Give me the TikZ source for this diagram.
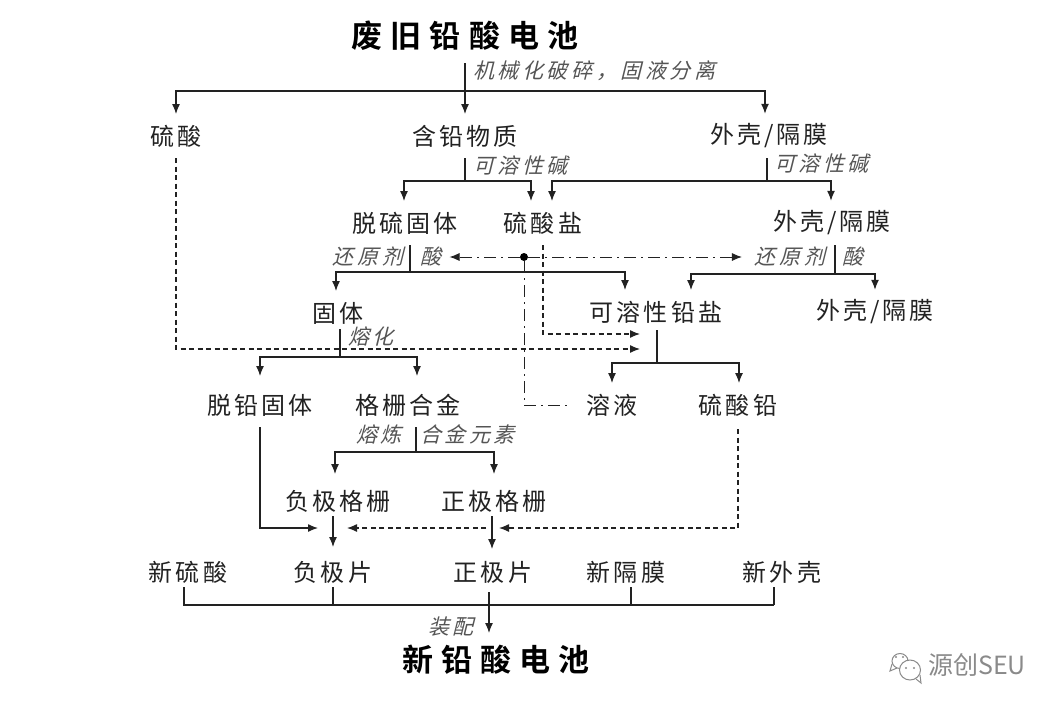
\documentclass[tikz,border=0pt]{standalone}
\usepackage{fontspec}
\usetikzlibrary{arrows.meta}
\setmainfont{Noto Sans CJK SC}
\newfontfamily\bodyf[LetterSpace=13]{Noto Sans CJK SC}
\newfontfamily\slantf[FakeSlant=0.25,LetterSpace=17]{Noto Sans CJK SC}
\newfontfamily\titlef[LetterSpace=26]{Noto Sans CJK SC Bold}
\newfontfamily\markf{Noto Sans CJK SC}
\definecolor{ink}{HTML}{222222}
\definecolor{lab}{HTML}{555555}
\definecolor{wm}{HTML}{8A8A8A}
\tikzset{
  x=1pt,y=-1pt,
  txt/.style={inner sep=0pt,outer ysep=10pt,minimum height=24pt,yshift=-1pt,text=ink,font=\bodyf\fontsize{24}{24}\selectfont},
  big/.style={inner sep=0pt,outer ysep=12pt,minimum height=30pt,text=black,font=\titlef\fontsize{31}{31}\selectfont},
  cue/.style={inner sep=0pt,text=lab,font=\slantf\fontsize{21}{21}\selectfont},
  ln/.style={draw=ink,line width=1.25pt},
  arr/.style={ln,-{Latex[length=10pt,width=8pt]}},
  dsh/.style={dash pattern=on 5pt off 3.5pt},
  ddt/.style={line width=0.9pt,dash pattern=on 12pt off 5pt on 2pt off 5pt}
}
\begin{document}
\begin{tikzpicture}
\useasboundingbox[fill=white] (0,0) rectangle (1063,713);
% titles
\node[big] (old) at (465,36) {废旧铅酸电池};
\node[big] (fresh) at (496,660) {新铅酸电池};
% materials
\node[txt] (acid) at (176,135) {硫酸};
\node[txt] (lead) at (465,135) {含铅物质};
\node[txt] (shellA) at (769,135) {外壳/隔膜};
\node[txt] (desulf) at (405,222) {脱硫固体};
\node[txt] (sulfate) at (543,222) {硫酸盐};
\node[txt] (shellB) at (832,222) {外壳/隔膜};
\node[txt] (solid) at (338,312) {固体};
\node[txt] (soluble) at (656,311) {可溶性铅盐};
\node[txt] (shellC) at (875,311) {外壳/隔膜};
\node[txt] (depb) at (260,404) {脱铅固体};
\node[txt] (grid) at (408,404) {格栅合金};
\node[txt,outer xsep=15pt] (liquor) at (612,404) {溶液};
\node[txt] (pbso) at (738,404) {硫酸铅};
\node[txt] (neggrid) at (338,500) {负极格栅};
\node[txt] (posgrid) at (494,500) {正极格栅};
\node[txt] (newacid) at (188,571) {新硫酸};
\node[txt] (negplate) at (333,571) {负极片};
\node[txt] (posplate) at (493,571) {正极片};
\node[txt] (newsep) at (626,571) {新隔膜};
\node[txt] (newshell) at (782,571) {新外壳};
% process labels
\node[cue,anchor=west] (c1) at (473,71) {机械化破碎，固液分离};
\node[cue,anchor=west] (c2) at (473,165) {可溶性碱};
\node[cue,anchor=west] (c3) at (774,163) {可溶性碱};
\node[cue] (c4) at (368,257) {还原剂};
\node[cue,outer xsep=8pt] (c5) at (431,257) {酸};
\node[cue,outer xsep=13pt] (c6) at (790,257) {还原剂};
\node[cue] (c7) at (853,257) {酸};
\node[cue] (c8) at (371,336) {熔化};
\node[cue] (c9) at (379,434) {熔炼};
\node[cue,anchor=west] (c10) at (420,434) {合金元素};
\node[cue] (c11) at (451,627) {装配};
% junctions
\coordinate (busA) at (465,91);
\coordinate (busB) at (465,181);
\coordinate (busC) at (767,181);
\coordinate (busD) at (410,272);
\coordinate (busE) at (835,274);
\coordinate (busG) at (657,363);
\coordinate (busH) at (340,357);
\coordinate (busI) at (416,452);
\coordinate (busJ) at (489,605);
\coordinate (inA) at (640,334);
\coordinate (inB) at (640,349);
\coordinate (inC) at (318,528);
\coordinate (inD) at (499,528);
\coordinate (inE) at (486,528);
\coordinate (inF) at (347,528);
\node[circle,fill=black,inner sep=0pt,minimum size=8pt] (dot) at (524,257) {};
% solid connectors
\draw[arr] (old.south) -- (lead.north);
\draw[arr] (busA) -| (acid.north);
\draw[arr] (busA) -| ([xshift=-4pt]shellA.north);
\draw[ln] (lead.south) -- (busB);
\draw[arr] (busB) -| ([xshift=-1pt]desulf.north);
\draw[arr] (busB) -| ([xshift=-12pt]sulfate.north);
\draw[ln] ([xshift=-2pt]shellA.south) -- (busC);
\draw[arr] (busC) -| ([xshift=9pt]sulfate.north);
\draw[arr] (busC) -| ([xshift=-1pt]shellB.north);
\draw[ln] ([xshift=5pt]desulf.south) -- (busD);
\draw[arr] (busD) -| ([xshift=-2pt]solid.north);
\draw[arr] (busD) -| ([xshift=-31pt]soluble.north);
\draw[ln] ([xshift=3pt]shellB.south) -- (busE);
\draw[arr] (busE) -| ([xshift=35pt]soluble.north);
\draw[arr] (busE) -| (shellC.north);
\draw[ln] ([xshift=1pt,yshift=4pt]soluble.south) -- (busG);
\draw[arr] (busG) -| (liquor.north);
\draw[arr] (busG) -| ([xshift=1pt]pbso.north);
\draw[ln] ([xshift=2pt,yshift=6pt]solid.south) -- (busH);
\draw[arr] (busH) -| ([yshift=7pt]depb.north);
\draw[arr] (busH) -| ([xshift=9pt,yshift=7pt]grid.north);
\draw[ln] ([xshift=8pt]grid.south) -- (busI);
\draw[arr] (busI) -| ([xshift=-3pt,yshift=5pt]neggrid.north);
\draw[arr] (busI) -| ([yshift=5pt]posgrid.north);
\draw[arr] (depb.south) |- (inC);
\draw[arr] ([xshift=-5pt,yshift=7pt]neggrid.south) -- ([yshift=3pt]negplate.north);
\draw[arr] ([xshift=-2pt,yshift=7pt]posgrid.south) -- ([xshift=-1pt,yshift=1pt]posplate.north);
\draw[ln] ([xshift=-4pt,yshift=7pt]newacid.south) |- ([xshift=-8pt]newshell.south |- busJ);
\draw[ln] ([yshift=7pt]negplate.south) -- (negplate.south |- busJ);
\draw[ln] ([xshift=5pt,yshift=7pt]newsep.south) -- ([xshift=5pt]newsep.south |- busJ);
\draw[ln] ([xshift=-8pt,yshift=7pt]newshell.south) -- ([xshift=-8pt]newshell.south |- busJ);
\draw[arr] ([yshift=13pt]busJ) -- ([xshift=-7pt]fresh.north);
% dashed connectors
\draw[arr,dsh] (acid.south) |- (inB);
\draw[arr,dsh] (sulfate.south) |- (inA);
\draw[arr,dsh] ([yshift=-2pt]pbso.south) |- (inD);
\draw[arr,dsh] (inE) -- (inF);
% dash-dot connectors
\draw[arr,ddt] (dot) -- (c5.east);
\draw[arr,ddt] (dot) -- (c6.west);
\draw[ln,ddt] (dot) |- (liquor.west);
% watermark
\begin{scope}[draw=wm,line width=1pt]
\draw (900,661) ellipse [x radius=8pt,y radius=7.5pt];
\draw (892,664) -- (890,671) -- (897,668);
\draw[fill=white] (910,670) ellipse [x radius=10.5pt,y radius=10pt];
\draw (916,679) -- (921,683) -- (920,675);
\fill[wm] (896,657) circle (1.2pt) (903,657) circle (1.2pt) (906,668) circle (1.2pt) (914,668) circle (1.2pt);
\end{scope}
\node[inner sep=0pt,text=wm,anchor=west,font=\markf\fontsize{25}{25}\selectfont] (brand) at (928,665) {源创SEU};
\end{tikzpicture}
\end{document}
